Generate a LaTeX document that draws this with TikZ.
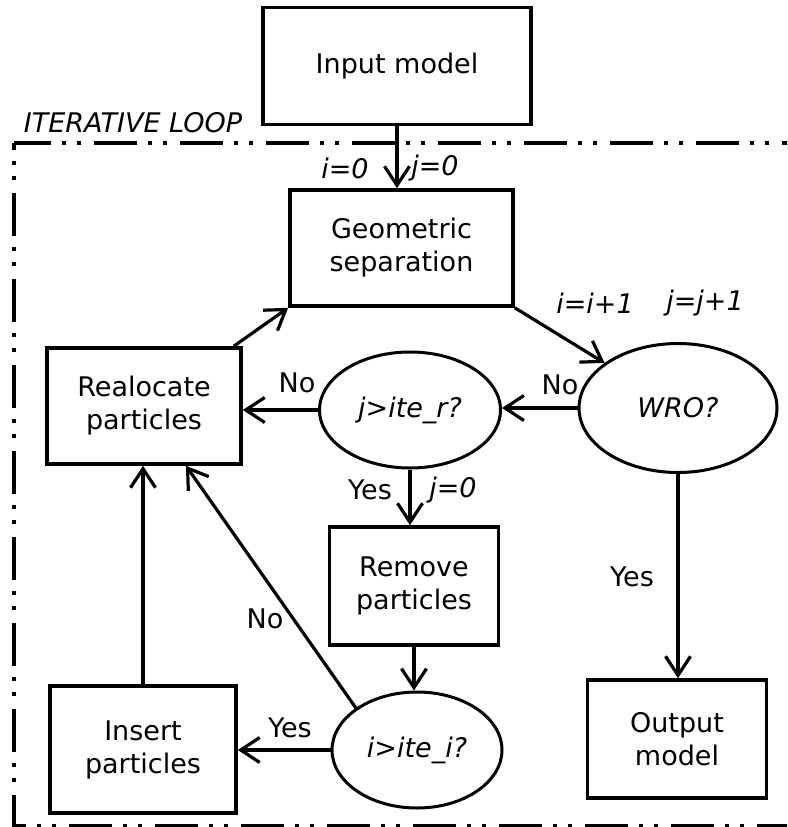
\documentclass[tikz,border=0pt]{standalone}
\usepackage{fontspec}
\setmainfont{DejaVu Sans}
\usetikzlibrary{shapes.geometric,arrows.meta}
\tikzset{box/.style={draw,line width=3.6pt,align=center,inner sep=0pt},
 test/.style={draw,ellipse,line width=3pt,inner sep=0pt,font=\fontsize{27}{33}\selectfont\itshape},
 answer/.style={inner sep=0pt},
 counter/.style={inner sep=0pt,font=\fontsize{27}{33}\selectfont\itshape},
 flow/.style={line width=3.2pt,-{Straight Barb[length=19pt,width=25pt]}},
 loopline/.style={line width=3.5pt,dash pattern=on 43pt off 11pt on 4pt off 11pt on 4pt off 13pt},
 }

\begin{document}
\begin{tikzpicture}[x=1pt,y=-1pt,font=\fontsize{27}{33}\selectfont]
        \useasboundingbox (0,0) rectangle (787,827);
        % iterative loop frame
        \begin{scope}
            \clip (0,0) rectangle (787,827);
            \draw[loopline,dash phase=6pt] (14,143) -- (800,143);
            \draw[loopline,dash phase=36pt] (14,143) -- (14,826) -- (800,826);
        \end{scope}
        \node[counter] (looptitle) at (133,123) {ITERATIVE LOOP};

        \node[box,minimum width=268pt,minimum height=117pt] (input) at (397,66) {Input model};
        \node[box,minimum width=223pt,minimum height=116pt] (geo) at (401.5,248) {Geometric\\separation};
        \node[box,minimum width=194pt,minimum height=116pt] (real) at (144,406) {Realocate\\particles};
        \node[test,minimum width=181pt,minimum height=116pt] (jr) at (410,410) {j>ite\_r?};
        \node[test,minimum width=198pt,minimum height=129pt] (wro) at (678,408) {WRO?};
        \node[box,minimum width=169pt,minimum height=118pt] (rem) at (414,586) {Remove\\particles};
        \node[test,minimum width=170pt,minimum height=116pt] (ii) at (417,750) {i>ite\_i?};
        \node[box,minimum width=186pt,minimum height=127pt] (ins) at (143,749.5) {Insert\\particles};
        \node[box,minimum width=179pt,minimum height=118pt] (out) at (677,739) {Output\\model};

        \draw[flow] (input.south) -- (input.south |- geo.north);
        \draw[flow] (geo.south east) -- (wro);
        \draw[flow] (wro.west) -- (wro.west -| jr.east);
        \draw[flow] (jr.west) -- (jr.west -| real.east);
        \draw[flow] (jr.south) -- (jr.south |- rem.north);
        \draw[flow] (rem.south) -- (rem.south |- ii.north);
        \draw[flow] (ii.west) -- (ii.west -| ins.east);
        \draw[flow] (ii.north west) -- (real);
        \draw[flow] (ins.north) -- (ins.north |- real.south);
        \draw[flow] ([xshift=-9pt]real.north east) -- (geo.south west);
        \draw[flow] (wro.south) -- (wro.south |- out.north);

        \node[counter] (i0) at (345,168) {i=0};
        \node[counter] (j0) at (435,168) {j=0};
        \node[counter] (iinc) at (595,303) {i=i+1};
        \node[counter] (jinc) at (705,303) {j=j+1};
        \node[counter] (jreset) at (453,490) {j=0};
        \node[answer] (nowro) at (560,385) {No};
        \node[answer] (nojr) at (297,383) {No};
        \node[answer] (yesjr) at (370,490) {Yes};
        \node[answer] (yesii) at (290,728) {Yes};
        \node[answer] (noii) at (265,619) {No};
        \node[answer] (yeswro) at (632,577) {Yes};
    \end{tikzpicture}
\end{document}
